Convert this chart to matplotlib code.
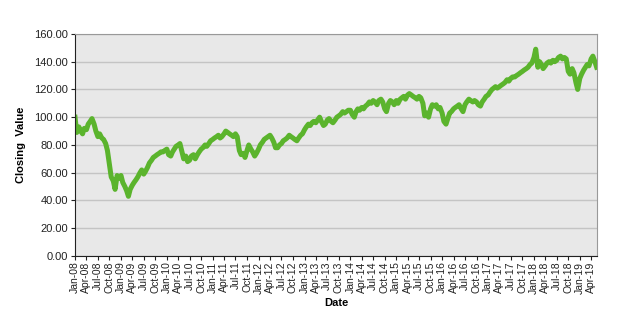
import pandas as pd
import numpy as np
import matplotlib
matplotlib.use("Agg")
import matplotlib.pyplot as plt
import matplotlib.dates as mdates

plt.rcParams['font.family'] = ['Liberation Sans', 'DejaVu Sans']

# semi-monthly closing values (1st and 15th of each month)
vals_2008 = [100, 89, 93, 90, 88, 92, 91, 95, 97, 99, 95, 90,
             86, 88, 85, 84, 81, 76, 66, 57, 54, 48, 58, 56]
vals_2009 = [58, 53, 50, 47, 43, 48, 51, 53, 55, 57, 60, 62,
             59, 61, 64, 67, 69, 71, 72, 73, 74, 75, 75, 76]
vals_2010 = [77, 73, 72, 75, 77, 79, 80, 81, 75, 70, 72, 68,
             69, 72, 73, 70, 73, 75, 77, 78, 80, 79, 81, 83]
vals_2011 = [84, 85, 86, 87, 85, 86, 88, 90, 89, 88, 87, 86,
             88, 86, 76, 73, 74, 71, 76, 80, 77, 75, 72, 74]
vals_2012 = [77, 80, 82, 84, 85, 86, 87, 85, 82, 78, 78, 80,
             81, 83, 84, 85, 87, 86, 85, 84, 83, 85, 87, 88]
vals_2013 = [91, 93, 95, 94, 96, 97, 96, 98, 100, 97, 94, 95,
             98, 99, 97, 96, 98, 100, 101, 102, 104, 103, 104, 105]
vals_2014 = [105, 102, 100, 104, 106, 105, 107, 106, 108, 109, 111, 110,
             112, 111, 109, 112, 113, 111, 106, 104, 110, 112, 111, 109]
vals_2015 = [112, 110, 113, 114, 115, 113, 116, 117, 116, 115, 114, 113,
             115, 114, 110, 101, 103, 100, 106, 109, 108, 109, 106, 107]
vals_2016 = [103, 97, 95, 99, 103, 104, 106, 107, 108, 109, 106, 104,
             109, 111, 113, 112, 111, 112, 111, 109, 108, 111, 113, 115]
vals_2017 = [116, 118, 120, 121, 122, 121, 122, 123, 124, 125, 127, 126,
             128, 129, 129, 130, 131, 132, 133, 134, 135, 136, 138, 139]
vals_2018 = [143, 149, 136, 140, 138, 135, 137, 139, 140, 139, 141, 140,
             141, 143, 144, 142, 143, 142, 133, 131, 135, 132, 125, 120]
vals_2019 = [128, 131, 134, 136, 138, 137, 142, 144, 140, 136]

values = (vals_2008 + vals_2009 + vals_2010 + vals_2011 + vals_2012 + vals_2013
          + vals_2014 + vals_2015 + vals_2016 + vals_2017 + vals_2018 + vals_2019)

months = pd.date_range("2008-01-01", "2019-05-01", freq="MS")
dates = []
for m in months:
    dates.append(m)
    dates.append(m + pd.Timedelta(days=14))
dates = dates[:len(values)]

fig = plt.figure(figsize=(6.21, 3.2), dpi=100)
ax = fig.add_axes([0.1208, 0.2, 0.8406, 0.694])
ax.set_facecolor('#e8e8e8')

ax.plot(dates, values, color='#5bb42d', linewidth=3.6, solid_joinstyle='round')

ax.set_ylim(0, 160)
ax.set_yticks(np.arange(0, 161, 20))
ax.yaxis.set_major_formatter(matplotlib.ticker.FormatStrFormatter('%.2f'))
ax.set_xlim(pd.Timestamp("2008-01-01"), pd.Timestamp("2019-05-18"))
ax.xaxis.set_major_locator(mdates.MonthLocator(bymonth=[1, 4, 7, 10]))
ax.xaxis.set_major_formatter(mdates.DateFormatter('%b-%y'))

ax.grid(axis='y', color='#c4c4c4', linewidth=1)
ax.set_axisbelow(True)

for s in ['top', 'right']:
    ax.spines[s].set_color('#999999')
for s in ['left', 'bottom']:
    ax.spines[s].set_color('#222222')

ax.tick_params(axis='x', labelrotation=90, labelsize=7.5, length=3, pad=1, colors='#222222')
ax.tick_params(axis='y', labelsize=8, length=3, pad=2, colors='#222222')

ax.set_xlabel('Date', fontsize=8, fontweight='bold', labelpad=3)
ax.set_ylabel('Closing  Value', fontsize=8, fontweight='bold', labelpad=6)

fig.savefig('out.png', dpi=100)
